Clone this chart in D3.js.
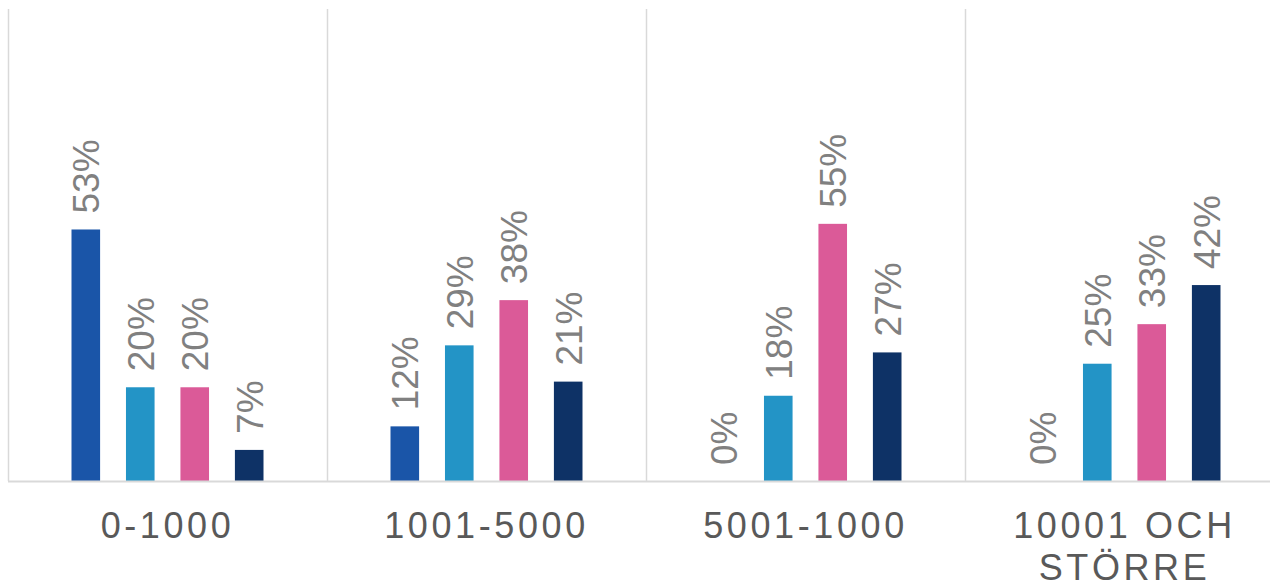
<!DOCTYPE html>
<html>
<head>
<meta charset="utf-8">
<script src="https://cdn.jsdelivr.net/npm/d3@7"></script>
<style>
  body { margin: 0; background: #fff; }
  svg { display: block; font-family: "Liberation Sans", Arial, sans-serif; }
</style>
</head>
<body>
<div id="main"></div>
<script>
// categories and series (shares)
var categories = ["0-1000", "1001-5000", "5001-1000", "10001 OCH STÖRRE"];
var categoryLines = [["0-1000"], ["1001-5000"], ["5001-1000"], ["10001 OCH", "STÖRRE"]];
var seriesNames = ["s1", "s2", "s3", "s4"];
var seriesColors = ["#1a55a8", "#2394c6", "#db5a98", "#0e3266"];
var s1 = [0.534, 0.116, 0.000, 0.000];
var s2 = [0.199, 0.288, 0.181, 0.249];
var s3 = [0.199, 0.384, 0.546, 0.333];
var s4 = [0.066, 0.211, 0.273, 0.416];
var seriesValues = [s1, s2, s3, s4];

var w = 1270, h = 584;
var plotLeft = 8, groupW = 319, base = 481, plotTop = 10;

var svg = d3.select("#main").append("svg")
	.attr("width", w)
	.attr("height", h);

var x0 = d3.scaleBand()
	.domain(categories)
	.range([plotLeft, plotLeft + groupW * categories.length])
	.padding(0);

var x1 = d3.scaleBand()
	.domain(seriesNames)
	.range([63.5, 255.5])
	.paddingInner(0.475)
	.paddingOuter(0);

var y = d3.scaleLinear()
	.domain([0, 1])
	.range([base, plotTop]);

var fmt = d3.format(".0%");

// vertical separators
var seps = categories.map(function(c) { return x0(c); }).concat([x0.range()[1]]);
svg.selectAll(".sep")
	.data(seps)
	.enter().append("line")
	.attr("class", "sep")
	.attr("x1", function(d) { return d + 0.5; })
	.attr("x2", function(d) { return d + 0.5; })
	.attr("y1", 9)
	.attr("y2", base)
	.attr("stroke", "#d9d9d9")
	.attr("stroke-width", 1.5);

// groups
var groups = svg.selectAll(".grp")
	.data(categories)
	.enter().append("g")
	.attr("class", "grp")
	.attr("transform", function(d) { return "translate(" + x0(d) + ",0)"; });

var cells = groups.selectAll(".cell")
	.data(function(c, ci) {
		return seriesNames.map(function(s, si) {
			return { s: s, i: si, v: seriesValues[si][ci] };
		});
	})
	.enter().append("g")
	.attr("class", "cell");

cells.append("rect")
	.attr("x", function(d) { return x1(d.s); })
	.attr("y", function(d) { return y(d.v); })
	.attr("width", x1.bandwidth())
	.attr("height", function(d) { return base - y(d.v); })
	.attr("fill", function(d) { return seriesColors[d.i]; });

cells.append("text")
	.attr("transform", function(d) {
		return "translate(" + (x1(d.s) + x1.bandwidth() / 2) + "," + (y(d.v) - 16) + ") rotate(-90)";
	})
	.attr("dy", "0.36em")
	.attr("font-size", "37px")
	.attr("fill", "#808080")
	.text(function(d) { return fmt(d.v); });

// baseline
svg.append("line")
	.attr("x1", plotLeft)
	.attr("x2", w)
	.attr("y1", base + 0.5)
	.attr("y2", base + 0.5)
	.attr("stroke", "#d9d9d9")
	.attr("stroke-width", 2);

// category labels
groups.append("text")
	.attr("text-anchor", "middle")
	.attr("font-size", "36px")
	.attr("letter-spacing", "3.6px")
	.attr("fill", "#595959")
	.attr("x", groupW / 2)
	.attr("y", 538)
	.selectAll("tspan")
	.data(function(d, i) { return categoryLines[i]; })
	.enter().append("tspan")
	.attr("x", groupW / 2)
	.attr("dy", function(d, i) { return i === 0 ? 0 : 42; })
	.text(function(d) { return d; });
</script>
</body>
</html>
